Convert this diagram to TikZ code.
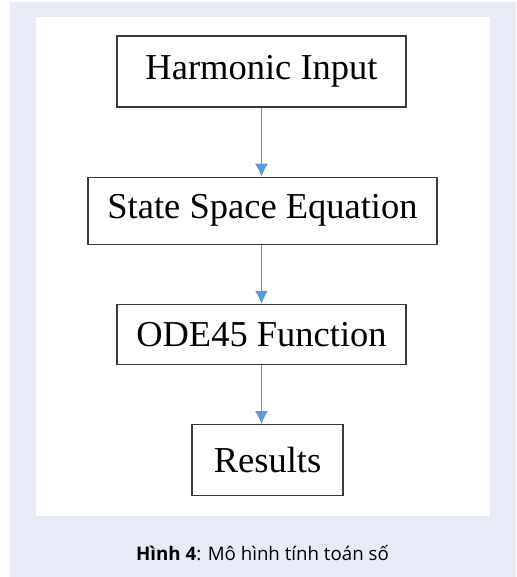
\documentclass[tikz,border=0pt]{standalone}
\usepackage{fontspec}
\setmainfont{Liberation Serif}
\newfontfamily\capfont{Open Sans}
\usetikzlibrary{positioning}
\definecolor{panelbg}{HTML}{E8EBF6}
\definecolor{flowblue}{HTML}{5B9BD5}
\definecolor{boxline}{HTML}{3A3A3A}
\tikzset{
  stage/.style={draw=boxline, line width=1.2pt, inner sep=0pt, font=\fontsize{36.5}{40}\selectfont},
  flow/.style={draw=flowblue, line width=1pt, -{Latex[length=13pt,width=13pt]}}
}
\usetikzlibrary{arrows.meta}
\begin{document}
\begin{tikzpicture}[x=1pt,y=1pt]
  \useasboundingbox (0,0) rectangle (516,-577);
  \fill[panelbg] (10,-2) rectangle (516,-577);
  \fill[white] (36,-17) rectangle (490,-516);

  \node[stage, minimum width=289pt, minimum height=71pt] (input) at (261.5,-71.5) {Harmonic Input};
  \node[stage, minimum width=349pt, minimum height=67pt, below=69pt of input, xshift=1pt] (state) {State Space Equation};
  \node[stage, minimum width=289pt, minimum height=60pt, below=59pt of state, xshift=-1pt] (ode) {ODE45 Function};
  \node[stage, minimum width=151pt, minimum height=71pt, below=59pt of ode, xshift=6pt] (res) {Results};

  \draw[flow] (input.south) -- (input.south |- state.north);
  \draw[flow] (state.south -| input.south) -- (input.south |- ode.north);
  \draw[flow] (ode.south) -- (ode.south |- res.north);

  \node[font=\capfont\fontsize{18.7}{22}\selectfont] (cap) at (262.5,-553) {\textbf{Hình 4}: Mô hình tính toán số};
\end{tikzpicture}
\end{document}
